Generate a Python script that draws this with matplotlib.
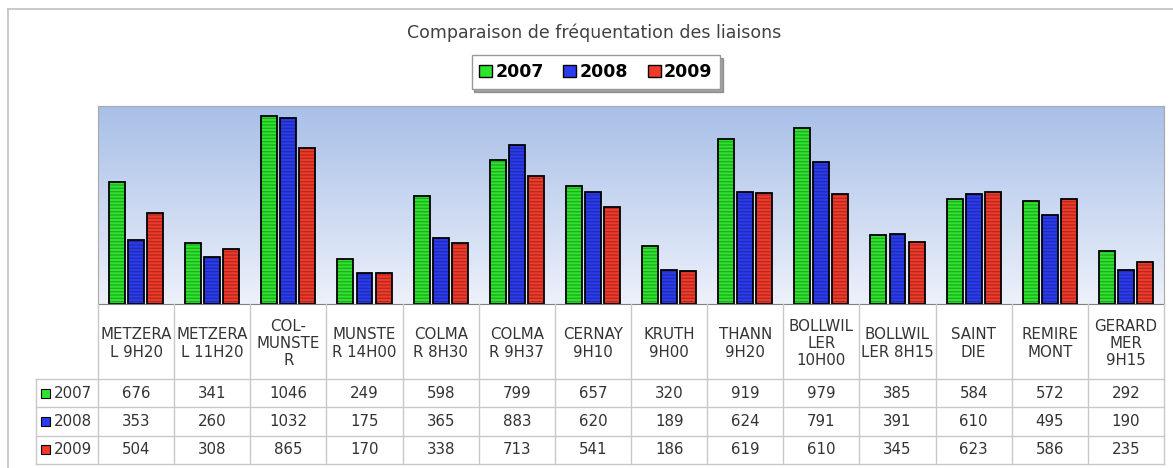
import numpy as np
import matplotlib
matplotlib.use("Agg")
import matplotlib.pyplot as plt
from matplotlib.patches import Patch, Rectangle
from matplotlib.lines import Line2D

# Données
liaisons = ["METZERA\nL 9H20", "METZERA\nL 11H20", "COL-\nMUNSTE\nR", "MUNSTE\nR 14H00",
            "COLMA\nR 8H30", "COLMA\nR 9H37", "CERNAY\n9H10", "KRUTH\n9H00", "THANN\n9H20",
            "BOLLWIL\nLER\n10H00", "BOLLWIL\nLER 8H15", "SAINT\nDIE", "REMIRE\nMONT",
            "GERARD\nMER\n9H15"]
annees = ["2007", "2008", "2009"]
v2007 = [676, 341, 1046, 249, 598, 799, 657, 320, 919, 979, 385, 584, 572, 292]
v2008 = [353, 260, 1032, 175, 365, 883, 620, 189, 624, 791, 391, 610, 495, 190]
v2009 = [504, 308, 865, 170, 338, 713, 541, 186, 619, 610, 345, 623, 586, 235]
couleurs = ["#2ee52e", "#2b3cf0", "#f23a2a"]

W, H = 1173, 468
fig = plt.figure(figsize=(W / 100, H / 100), dpi=100)
plt.rcParams["font.family"] = ["DejaVu Sans"]

def px(x0, y0, x1, y1):
    return [x0 / W, 1 - y1 / H, (x1 - x0) / W, (y1 - y0) / H]

# cadre extérieur
fig.add_artist(Line2D([8 / W, 8 / W], [0, 1 - 9 / H], color="#c0c0c0", lw=1.2))
fig.add_artist(Line2D([8 / W, 1], [1 - 9 / H, 1 - 9 / H], color="#c0c0c0", lw=1.2))

# graphique
ax = fig.add_axes(px(98, 106, 1164, 304))
n = len(liaisons)
x = np.arange(n)
ax.set_xlim(-0.5, n - 0.5)
ax.set_ylim(0, 1100)

# fond en dégradé
grad = np.linspace(0, 1, 256).reshape(-1, 1)
cmap = matplotlib.colors.LinearSegmentedColormap.from_list("bg", ["#edf1fa", "#a8bfe8"])
ax.imshow(grad, extent=[-0.5, n - 0.5, 0, 1100], origin="lower", aspect="auto", cmap=cmap, zorder=0)

largeur = 0.21
for i, (vals, c) in enumerate(zip([v2007, v2008, v2009], couleurs)):
    pos = x + (i - 1) * 0.25
    ax.bar(pos, vals, largeur, color=c, edgecolor=(0, 0, 0, 0.25), hatch="-----", lw=0, zorder=2)
    ax.bar(pos, vals, largeur, fill=False, edgecolor="black", lw=1.3, zorder=3)

ax.set_xticks([])
ax.set_yticks([])
for s in ["top", "left", "right"]:
    ax.spines[s].set_color("#a8a8a8")
ax.spines["bottom"].set_color("#808080")

# titre et légende
fig.text(594 / W, 1 - 33 / H, "Comparaison de fréquentation des liaisons", ha="center", va="center",
         fontsize=12.5, color="#404040")
handles = [Patch(facecolor=c, edgecolor="black", label=a) for c, a in zip(couleurs, annees)]
leg = fig.legend(handles=handles, loc="center", bbox_to_anchor=(596 / W, 1 - 72 / H), ncol=3,
                 frameon=True, fancybox=False, shadow={"color": "#666666", "alpha": 0.6}, handlelength=0.75,
                 handleheight=0.75, handletextpad=0.2, columnspacing=1.1, borderpad=0.45,
                 borderaxespad=0, prop={"weight": "bold", "size": 12.5})
leg.get_frame().set_edgecolor("#999999")

# tableau sous le graphique
tab = fig.add_axes(px(98, 304, 1164, 464))
tab.set_xlim(-0.5, n - 0.5)
tab.set_ylim(160, 0)
tab.axis("off")
head_h = 75
row_h = (160 - head_h) / 3
gris = "#c8c8c8"
left_lab = -0.5 - 62 / 76.14

for k in range(n + 1):
    tab.plot([k - 0.5, k - 0.5], [0, 160], color=gris, lw=1, clip_on=False)
for r in range(4):
    y = head_h + r * row_h
    tab.plot([left_lab, n - 0.5], [y, y], color=gris, lw=1, clip_on=False)
tab.plot([left_lab, left_lab], [head_h, 160], color=gris, lw=1, clip_on=False)

for k, lab in enumerate(liaisons):
    tab.text(k, head_h / 2 + 2, lab, ha="center", va="center", fontsize=10.8, color="#333333",
             linespacing=1.2)

for r, (vals, c, a) in enumerate(zip([v2007, v2008, v2009], couleurs, annees)):
    yc = head_h + (r + 0.5) * row_h
    for k, v in enumerate(vals):
        tab.text(k, yc, str(v), ha="center", va="center", fontsize=10.8, color="#333333")
    tab.add_patch(Rectangle((left_lab + 0.07, yc - 4.5), 0.12, 9, facecolor=c, edgecolor="black",
                            lw=0.8, clip_on=False))
    tab.text(left_lab + 0.23, yc, a, ha="left", va="center", fontsize=10.8, color="#333333")

fig.savefig("out.png", dpi=100, facecolor="white")
